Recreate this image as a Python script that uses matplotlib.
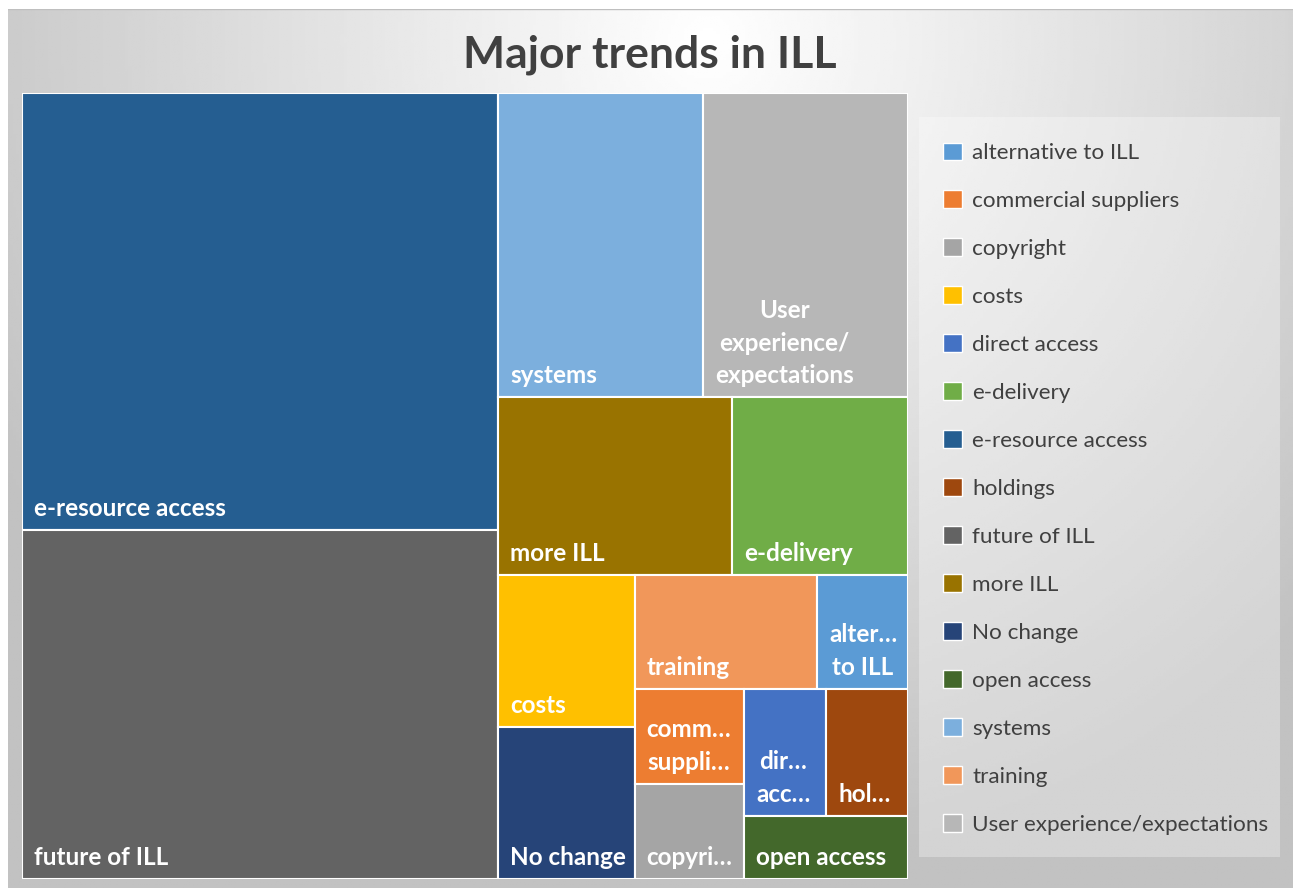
import matplotlib
matplotlib.use('Agg')
import matplotlib.pyplot as plt
from matplotlib.patches import Rectangle, Patch
import numpy as np

plt.rcParams['font.family'] = ['Lato', 'DejaVu Sans']

# data (legend order)
categories = ['alternative to ILL', 'commercial suppliers', 'copyright', 'costs',
              'direct access', 'e-delivery', 'e-resource access', 'holdings',
              'future of ILL', 'more ILL', 'No change', 'open access', 'systems',
              'training', 'User experience/expectations']
counts = [1, 1, 1, 2, 1, 3, 20, 1, 16, 4, 2, 1, 6, 2, 6]
tile_labels = ['alter…\nto ILL', 'comm…\nsuppli…', 'copyri…', 'costs',
               'dir…\nacc…', 'e-delivery', 'e-resource access', 'hol…',
               'future of ILL', 'more ILL', 'No change', 'open access', 'systems',
               'training', 'User\nexperience/\nexpectations']
colors = ['#5B9BD5', '#ED7D31', '#A5A5A5', '#FFC000', '#4472C4', '#70AD47',
          '#255E91', '#9E480E', '#636363', '#997300', '#264478', '#43682B',
          '#7CAFDD', '#F1975A', '#B7B7B7']


def worst(row, side, scale):
    s = sum(row) * scale
    return max(max(side**2 * r * scale / s**2, s**2 / (side**2 * r * scale)) for r in row)


def squarify(vals, x, y, w, h):
    scale = w * h / sum(vals)
    rects = []
    i = 0
    while i < len(vals):
        side = min(w, h)
        row = [vals[i]]
        j = i + 1
        while j < len(vals) and worst(row + [vals[j]], side, scale) <= worst(row, side, scale):
            row.append(vals[j])
            j += 1
        area = sum(row) * scale
        if w >= h:
            sw = area / h
            yy = y
            for v in row:
                hh = v * scale / sw
                rects.append((x, yy, sw, hh))
                yy += hh
            x += sw
            w -= sw
        else:
            sh = area / w
            xx = x
            for v in row:
                ww = v * scale / sh
                rects.append((xx, y, ww, sh))
                xx += ww
            y += sh
            h -= sh
        i = j
    return rects


FW, FH = 1300, 888
fig = plt.figure(figsize=(FW / 100, FH / 100), dpi=100, facecolor='white')

# chart background: radial gradient
bg = fig.add_axes([8 / FW, 0, 1285 / FW, 879 / FH])
gx, gy = np.meshgrid(np.linspace(0, 1285, 400), np.linspace(0, 879, 300))
dist = np.sqrt(((gx - 700) / 900)**2 + ((gy - 30) / 900)**2)
shade = np.clip(1.0 - 0.26 * dist, 0.76, 1.0)
bg.imshow(shade, cmap='gray', vmin=0, vmax=1, extent=[0, 1285, 879, 0], aspect='auto')
bg.set_xlim(0, 1285)
bg.set_ylim(879, 0)
bg.axis('off')
bg.plot([0, 1285], [0.5, 0.5], color='#BFBFBF', lw=1)

# treemap
PW, PH = 886, 786
ax = fig.add_axes([22 / FW, 9 / FH, PW / FW, PH / FH])
ax.set_xlim(0, PW)
ax.set_ylim(PH, 0)
ax.axis('off')

order = sorted(range(len(counts)), key=lambda k: -counts[k])
rects = squarify([counts[k] for k in order], 0, 0, PW, PH)
for k, (x, y, w, h) in zip(order, rects):
    ax.add_patch(Rectangle((x, y), w, h, facecolor=colors[k], edgecolor='white', lw=1.5))
    ax.text(x + 12, y + h - 10, tile_labels[k], ha='left', va='bottom', multialignment='center',
            color='white', fontsize=17.5, fontweight='bold', linespacing=1.5)

fig.text(650 / FW, 1 - 67 / FH, 'Major trends in ILL', ha='center', va='baseline',
         fontsize=32, fontweight='bold', color='#404040')

# legend box
fig.patches.append(Rectangle((919 / FW, 1 - 857 / FH), 361 / FW, 740 / FH,
                             transform=fig.transFigure, facecolor='white', alpha=0.3,
                             edgecolor='none', zorder=0.5))

handles = [Patch(facecolor=c, edgecolor='white', lw=1) for c in colors]
leg = fig.legend(handles, categories, loc='upper left',
                 bbox_to_anchor=(943 / FW, 1 - 142.5 / FH), frameon=False,
                 fontsize=16.2, handlelength=0.85, handleheight=0.85,
                 handletextpad=0.45, labelspacing=1.21, borderpad=0,
                 borderaxespad=0, labelcolor='#404040')

fig.savefig('out.png', dpi=100, facecolor='white')
